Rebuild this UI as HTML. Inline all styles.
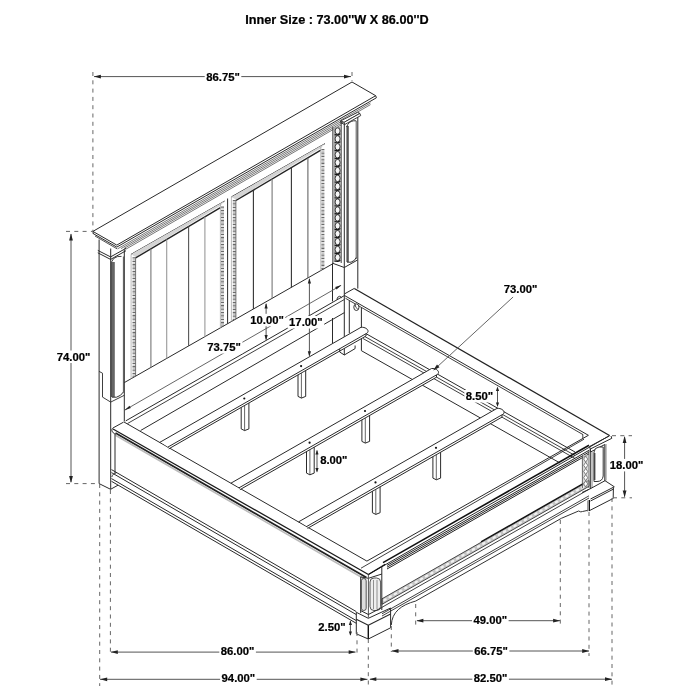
<!DOCTYPE html>
<html><head><meta charset="utf-8"><style>
html,body{margin:0;padding:0;background:#fff;}
svg{display:block;}
text{font-family:"Liberation Sans",sans-serif;fill:#000;stroke:#000;stroke-width:0.22px;}
</style></head><body>
<svg width="700" height="700" viewBox="0 0 700 700" stroke-linecap="butt">
<rect width="700" height="700" fill="#fff"/>
<polyline points="92.9,231.4 352.0,82.0 375.7,95.7 376.4,97.8" fill="none" stroke="#2a2a2a" stroke-width="1.0" stroke-linejoin="round" />
<line x1="92.9" y1="231.4" x2="116.8" y2="245.1" stroke="#2a2a2a" stroke-width="1.0" />
<line x1="116.8" y1="245.1" x2="375.7" y2="95.7" stroke="#2a2a2a" stroke-width="1.0" />
<line x1="92.9" y1="231.4" x2="93.3" y2="234.0" stroke="#2a2a2a" stroke-width="1.0" />
<line x1="93.2" y1="233.6" x2="116.8" y2="247.1" stroke="#2a2a2a" stroke-width="1.0" />
<line x1="116.8" y1="247.1" x2="376.4" y2="97.8" stroke="#2a2a2a" stroke-width="1.0" />
<line x1="95.0" y1="236.0" x2="117.0" y2="248.8" stroke="#2a2a2a" stroke-width="0.8" />
<line x1="117.5" y1="248.9" x2="370.5" y2="102.9" stroke="#4a4a4a" stroke-width="0.75" />
<line x1="121.0" y1="248.6" x2="370.5" y2="104.6" stroke="#4a4a4a" stroke-width="0.75" />
<line x1="124.0" y1="248.5" x2="352.0" y2="117.0" stroke="#4a4a4a" stroke-width="0.75" />
<line x1="125.5" y1="249.4" x2="341.0" y2="125.0" stroke="#4a4a4a" stroke-width="0.75" />
<line x1="99.1" y1="239.5" x2="99.1" y2="483.6" stroke="#2a2a2a" stroke-width="1.0" />
<line x1="110.7" y1="248.5" x2="110.7" y2="489.3" stroke="#2a2a2a" stroke-width="1.0" />
<line x1="124.3" y1="249.5" x2="124.3" y2="421.4" stroke="#2a2a2a" stroke-width="1.0" />
<polyline points="99.1,483.6 110.6,489.3 118.0,485.2" fill="none" stroke="#2a2a2a" stroke-width="1.0" stroke-linejoin="round" />
<polyline points="97.8,250.4 110.6,256.9 126.0,248.3" fill="none" stroke="#2a2a2a" stroke-width="1.0" stroke-linejoin="round" />
<polyline points="97.8,252.8 110.6,259.4 126.0,250.7" fill="none" stroke="#2a2a2a" stroke-width="1.0" stroke-linejoin="round" />
<path d="M111.5,397 L111.5,262 Q113,257.5 117.5,256.6 L121.5,256.4" fill="none" stroke="#444" stroke-width="1"/>
<rect x="111.6" y="262" width="3.2" height="135" fill="#666"/>
<line x1="123.4" y1="256.5" x2="123.4" y2="392.5" stroke="#555" stroke-width="1.0" />
<path d="M112,397.2 L116.5,397.2 Q121,396 123.4,392" fill="none" stroke="#333" stroke-width="1"/>
<polyline points="99.1,371.4 102.5,373.2 102.5,397.1 110.7,402.1 124.3,395.3" fill="none" stroke="#2a2a2a" stroke-width="0.9" stroke-linejoin="round" />
<line x1="124.3" y1="382.6" x2="332.5" y2="263.9" stroke="#2a2a2a" stroke-width="1.0" />
<line x1="131.1" y1="254.3" x2="224.6" y2="201.1" stroke="#2a2a2a" stroke-width="1" />
<polygon points="131.1,254.3 224.6,201.1 220.4,205.8 135.6,256.9" fill="#d4d4d4" stroke="none"/>
<line x1="135.6" y1="257.9" x2="220.4" y2="207.6" stroke="#222" stroke-width="1.4" />
<line x1="131.1" y1="254.3" x2="131.1" y2="378.7" stroke="#aaa" stroke-width="0.8" />
<line x1="134.0" y1="257.3" x2="134.0" y2="377.1" stroke="#6a6a6a" stroke-width="3.0" stroke-dasharray="1.3,2.1"/>
<line x1="134.0" y1="257.3" x2="134.0" y2="377.1" stroke="#bbb" stroke-width="3.0" stroke-dasharray="1.3,2.1" stroke-dashoffset="1.7" opacity="0.8"/>
<line x1="135.6" y1="257.3" x2="135.6" y2="376.2" stroke="#555" stroke-width="0.8" />
<line x1="220.4" y1="203.5" x2="220.4" y2="327.8" stroke="#aaa" stroke-width="0.8" />
<line x1="222.5" y1="206.5" x2="222.5" y2="326.6" stroke="#6a6a6a" stroke-width="3.0" stroke-dasharray="1.3,2.1"/>
<line x1="222.5" y1="206.5" x2="222.5" y2="326.6" stroke="#bbb" stroke-width="3.0" stroke-dasharray="1.3,2.1" stroke-dashoffset="1.7" opacity="0.8"/>
<line x1="150.9" y1="248.8" x2="150.9" y2="367.4" stroke="#777" stroke-width="1.1" />
<line x1="166.7" y1="239.5" x2="166.7" y2="358.4" stroke="#999" stroke-width="1.1" />
<line x1="188.6" y1="226.5" x2="188.6" y2="345.9" stroke="#555" stroke-width="1.1" />
<line x1="204.9" y1="216.8" x2="204.9" y2="336.7" stroke="#999" stroke-width="1.1" />
<line x1="231.4" y1="196.9" x2="325.0" y2="143.6" stroke="#2a2a2a" stroke-width="1" />
<polygon points="231.4,196.9 325.0,143.6 320.8,148.3 235.9,199.5" fill="#d4d4d4" stroke="none"/>
<line x1="235.9" y1="200.5" x2="320.8" y2="150.1" stroke="#222" stroke-width="1.4" />
<line x1="231.4" y1="196.9" x2="231.4" y2="321.6" stroke="#aaa" stroke-width="0.8" />
<line x1="234.3" y1="199.9" x2="234.3" y2="319.9" stroke="#6a6a6a" stroke-width="3.0" stroke-dasharray="1.3,2.1"/>
<line x1="234.3" y1="199.9" x2="234.3" y2="319.9" stroke="#bbb" stroke-width="3.0" stroke-dasharray="1.3,2.1" stroke-dashoffset="1.7" opacity="0.8"/>
<line x1="235.9" y1="199.9" x2="235.9" y2="319.0" stroke="#555" stroke-width="0.8" />
<line x1="320.8" y1="146.0" x2="320.8" y2="270.6" stroke="#aaa" stroke-width="0.8" />
<line x1="322.9" y1="149.0" x2="322.9" y2="269.4" stroke="#6a6a6a" stroke-width="3.0" stroke-dasharray="1.3,2.1"/>
<line x1="322.9" y1="149.0" x2="322.9" y2="269.4" stroke="#bbb" stroke-width="3.0" stroke-dasharray="1.3,2.1" stroke-dashoffset="1.7" opacity="0.8"/>
<line x1="253.4" y1="190.1" x2="253.4" y2="309.0" stroke="#333" stroke-width="1.1" />
<line x1="272.1" y1="179.0" x2="272.1" y2="298.4" stroke="#777" stroke-width="1.1" />
<line x1="291.4" y1="167.6" x2="291.4" y2="287.4" stroke="#333" stroke-width="1.1" />
<line x1="307.9" y1="157.8" x2="307.9" y2="277.9" stroke="#666" stroke-width="1.1" />
<line x1="227.6" y1="198.5" x2="227.6" y2="323.7" stroke="#2a2a2a" stroke-width="1" />
<line x1="332.9" y1="127.0" x2="332.9" y2="263.2" stroke="#2a2a2a" stroke-width="1" />
<line x1="341.2" y1="122.0" x2="341.2" y2="263.0" stroke="#2a2a2a" stroke-width="0.9" />
<rect x="333.4" y="127" width="7.4" height="135" fill="#a8a8a8"/>
<ellipse cx="337.6" cy="131.0" rx="2.5" ry="3.2" fill="#f6f6f6" stroke="#2a2a2a" stroke-width="0.9"/>
<path d="M334.6,134.6 l3.2,0.5 l2.6,-1.3" fill="none" stroke="#111" stroke-width="1.1"/>
<ellipse cx="337.6" cy="138.9" rx="2.5" ry="3.2" fill="#f6f6f6" stroke="#2a2a2a" stroke-width="0.9"/>
<path d="M334.6,142.5 l3.2,0.5 l2.6,-1.3" fill="none" stroke="#111" stroke-width="1.1"/>
<ellipse cx="337.6" cy="146.8" rx="2.5" ry="3.2" fill="#f6f6f6" stroke="#2a2a2a" stroke-width="0.9"/>
<path d="M334.6,150.4 l3.2,0.5 l2.6,-1.3" fill="none" stroke="#111" stroke-width="1.1"/>
<ellipse cx="337.6" cy="154.7" rx="2.5" ry="3.2" fill="#f6f6f6" stroke="#2a2a2a" stroke-width="0.9"/>
<path d="M334.6,158.3 l3.2,0.5 l2.6,-1.3" fill="none" stroke="#111" stroke-width="1.1"/>
<ellipse cx="337.6" cy="162.6" rx="2.5" ry="3.2" fill="#f6f6f6" stroke="#2a2a2a" stroke-width="0.9"/>
<path d="M334.6,166.2 l3.2,0.5 l2.6,-1.3" fill="none" stroke="#111" stroke-width="1.1"/>
<ellipse cx="337.6" cy="170.5" rx="2.5" ry="3.2" fill="#f6f6f6" stroke="#2a2a2a" stroke-width="0.9"/>
<path d="M334.6,174.1 l3.2,0.5 l2.6,-1.3" fill="none" stroke="#111" stroke-width="1.1"/>
<ellipse cx="337.6" cy="178.4" rx="2.5" ry="3.2" fill="#f6f6f6" stroke="#2a2a2a" stroke-width="0.9"/>
<path d="M334.6,182.0 l3.2,0.5 l2.6,-1.3" fill="none" stroke="#111" stroke-width="1.1"/>
<ellipse cx="337.6" cy="186.3" rx="2.5" ry="3.2" fill="#f6f6f6" stroke="#2a2a2a" stroke-width="0.9"/>
<path d="M334.6,189.9 l3.2,0.5 l2.6,-1.3" fill="none" stroke="#111" stroke-width="1.1"/>
<ellipse cx="337.6" cy="194.2" rx="2.5" ry="3.2" fill="#f6f6f6" stroke="#2a2a2a" stroke-width="0.9"/>
<path d="M334.6,197.8 l3.2,0.5 l2.6,-1.3" fill="none" stroke="#111" stroke-width="1.1"/>
<ellipse cx="337.6" cy="202.1" rx="2.5" ry="3.2" fill="#f6f6f6" stroke="#2a2a2a" stroke-width="0.9"/>
<path d="M334.6,205.7 l3.2,0.5 l2.6,-1.3" fill="none" stroke="#111" stroke-width="1.1"/>
<ellipse cx="337.6" cy="210.0" rx="2.5" ry="3.2" fill="#f6f6f6" stroke="#2a2a2a" stroke-width="0.9"/>
<path d="M334.6,213.6 l3.2,0.5 l2.6,-1.3" fill="none" stroke="#111" stroke-width="1.1"/>
<ellipse cx="337.6" cy="217.9" rx="2.5" ry="3.2" fill="#f6f6f6" stroke="#2a2a2a" stroke-width="0.9"/>
<path d="M334.6,221.5 l3.2,0.5 l2.6,-1.3" fill="none" stroke="#111" stroke-width="1.1"/>
<ellipse cx="337.6" cy="225.8" rx="2.5" ry="3.2" fill="#f6f6f6" stroke="#2a2a2a" stroke-width="0.9"/>
<path d="M334.6,229.4 l3.2,0.5 l2.6,-1.3" fill="none" stroke="#111" stroke-width="1.1"/>
<ellipse cx="337.6" cy="233.7" rx="2.5" ry="3.2" fill="#f6f6f6" stroke="#2a2a2a" stroke-width="0.9"/>
<path d="M334.6,237.3 l3.2,0.5 l2.6,-1.3" fill="none" stroke="#111" stroke-width="1.1"/>
<ellipse cx="337.6" cy="241.6" rx="2.5" ry="3.2" fill="#f6f6f6" stroke="#2a2a2a" stroke-width="0.9"/>
<path d="M334.6,245.2 l3.2,0.5 l2.6,-1.3" fill="none" stroke="#111" stroke-width="1.1"/>
<ellipse cx="337.6" cy="249.5" rx="2.5" ry="3.2" fill="#f6f6f6" stroke="#2a2a2a" stroke-width="0.9"/>
<path d="M334.6,253.1 l3.2,0.5 l2.6,-1.3" fill="none" stroke="#111" stroke-width="1.1"/>
<ellipse cx="337.6" cy="257.4" rx="2.5" ry="3.2" fill="#f6f6f6" stroke="#2a2a2a" stroke-width="0.9"/>
<path d="M334.6,261.0 l3.2,0.5 l2.6,-1.3" fill="none" stroke="#111" stroke-width="1.1"/>
<line x1="344.3" y1="123.5" x2="344.3" y2="355.0" stroke="#2a2a2a" stroke-width="1" />
<line x1="357.8" y1="114.5" x2="357.8" y2="288.6" stroke="#2a2a2a" stroke-width="1" />
<polygon points="340.6,120.9 344.2,122.3 359.9,113.4 357.7,112.3" fill="#fff" stroke="#2a2a2a" stroke-width="0.9"/>
<polygon points="344.2,122.3 359.9,113.4 360.7,115.6 344.6,124.6" fill="#fff" stroke="#2a2a2a" stroke-width="0.9"/>
<line x1="340.6" y1="120.9" x2="340.8" y2="122.6" stroke="#2a2a2a" stroke-width="0.9" />
<line x1="340.8" y1="122.6" x2="344.6" y2="124.6" stroke="#2a2a2a" stroke-width="0.9" />
<rect x="346.4" y="126" width="2.4" height="136" fill="#555"/>
<path d="M346.6,127 Q348.5,121.5 353.5,120.8 L356.2,120.8" fill="none" stroke="#333" stroke-width="1"/>
<line x1="356.2" y1="121.0" x2="356.2" y2="259.0" stroke="#555" stroke-width="1" />
<path d="M347,262.2 L351,262.2 Q355,261 356.2,257.5" fill="none" stroke="#333" stroke-width="1"/>
<polyline points="332.5,263.2 344.3,267.5 357.5,260.0" fill="none" stroke="#2a2a2a" stroke-width="1" stroke-linejoin="round" />
<line x1="332.5" y1="263.2" x2="332.5" y2="301.4" stroke="#2a2a2a" stroke-width="1" />
<line x1="332.5" y1="318.0" x2="332.5" y2="343.2" stroke="#2a2a2a" stroke-width="1" />
<line x1="113.0" y1="429.0" x2="368.4" y2="574.5" stroke="#1a1a1a" stroke-width="1.3" />
<line x1="115.5" y1="433.0" x2="366.4" y2="577.5" stroke="#222" stroke-width="1.8" />
<line x1="115.5" y1="435.2" x2="365.4" y2="579.5" stroke="#bbb" stroke-width="1.6" />
<line x1="124.0" y1="422.0" x2="366.9" y2="561.1" stroke="#2a2a2a" stroke-width="1" />
<line x1="115.0" y1="434.0" x2="115.0" y2="473.0" stroke="#2a2a2a" stroke-width="1" />
<line x1="111.5" y1="469.6" x2="356.3" y2="611.6" stroke="#2a2a2a" stroke-width="1" />
<line x1="111.5" y1="472.6" x2="356.3" y2="614.6" stroke="#2a2a2a" stroke-width="1" />
<line x1="111.5" y1="478.6" x2="356.3" y2="620.6" stroke="#2a2a2a" stroke-width="1" />
<line x1="111.5" y1="481.3" x2="356.3" y2="623.3" stroke="#2a2a2a" stroke-width="1" />
<line x1="354.3" y1="288.4" x2="609.5" y2="435.6" stroke="#222" stroke-width="1.2" />
<line x1="344.5" y1="295.5" x2="588.4" y2="435.3" stroke="#2a2a2a" stroke-width="1" />
<line x1="345.5" y1="298.3" x2="583.0" y2="434.6" stroke="#2a2a2a" stroke-width="0.9" />
<line x1="582.8" y1="434.4" x2="582.8" y2="438.4" stroke="#2a2a2a" stroke-width="0.9" />
<line x1="354.3" y1="288.4" x2="344.5" y2="293.9" stroke="#2a2a2a" stroke-width="1" />
<line x1="361.4" y1="307.9" x2="361.4" y2="350.7" stroke="#2a2a2a" stroke-width="1" />
<line x1="361.4" y1="350.7" x2="560.0" y2="463.0" stroke="#2a2a2a" stroke-width="1" />
<line x1="364.0" y1="332.5" x2="575.0" y2="452.0" stroke="#2a2a2a" stroke-width="1" />
<line x1="363.0" y1="335.5" x2="575.0" y2="455.5" stroke="#2a2a2a" stroke-width="0.9" />
<line x1="363.0" y1="338.5" x2="575.0" y2="458.5" stroke="#2a2a2a" stroke-width="0.9" />
<line x1="125.7" y1="420.9" x2="344.5" y2="295.5" stroke="#2a2a2a" stroke-width="1" />
<line x1="127.4" y1="423.6" x2="344.3" y2="299.5" stroke="#2a2a2a" stroke-width="0.9" />
<line x1="140.6" y1="430.5" x2="344.4" y2="312.6" stroke="#2a2a2a" stroke-width="1" />
<line x1="368.4" y1="574.5" x2="609.5" y2="435.6" stroke="#2a2a2a" stroke-width="1" />
<line x1="366.9" y1="561.1" x2="588.4" y2="435.3" stroke="#2a2a2a" stroke-width="1" />
<line x1="361.0" y1="568.2" x2="584.0" y2="439.2" stroke="#2a2a2a" stroke-width="0.9" />
<line x1="383.0" y1="562.6" x2="589.0" y2="445.2" stroke="#111" stroke-width="1.6" />
<line x1="387.0" y1="565.4" x2="589.0" y2="450.3" stroke="#222" stroke-width="1" />
<line x1="387.0" y1="567.2" x2="589.0" y2="452.1" stroke="#222" stroke-width="1" />
<line x1="387.0" y1="569.0" x2="589.0" y2="453.9" stroke="#222" stroke-width="1" />
<polygon points="382,598.8 589,480.8 589,486.3 382,604.3" fill="#c4c4c4" stroke="#333" stroke-width="0.9"/>
<ellipse cx="385.0" cy="599.8" rx="1.9" ry="1.2" transform="rotate(-30 385.0 599.8)" fill="#f2f2f2" stroke="none"/>
<ellipse cx="390.2" cy="596.8" rx="1.9" ry="1.2" transform="rotate(-30 390.2 596.8)" fill="#f2f2f2" stroke="none"/>
<ellipse cx="395.4" cy="593.8" rx="1.9" ry="1.2" transform="rotate(-30 395.4 593.8)" fill="#f2f2f2" stroke="none"/>
<ellipse cx="400.6" cy="590.9" rx="1.9" ry="1.2" transform="rotate(-30 400.6 590.9)" fill="#f2f2f2" stroke="none"/>
<ellipse cx="405.8" cy="587.9" rx="1.9" ry="1.2" transform="rotate(-30 405.8 587.9)" fill="#f2f2f2" stroke="none"/>
<ellipse cx="411.0" cy="584.9" rx="1.9" ry="1.2" transform="rotate(-30 411.0 584.9)" fill="#f2f2f2" stroke="none"/>
<ellipse cx="416.2" cy="582.0" rx="1.9" ry="1.2" transform="rotate(-30 416.2 582.0)" fill="#f2f2f2" stroke="none"/>
<ellipse cx="421.4" cy="579.0" rx="1.9" ry="1.2" transform="rotate(-30 421.4 579.0)" fill="#f2f2f2" stroke="none"/>
<ellipse cx="426.6" cy="576.0" rx="1.9" ry="1.2" transform="rotate(-30 426.6 576.0)" fill="#f2f2f2" stroke="none"/>
<ellipse cx="431.8" cy="573.1" rx="1.9" ry="1.2" transform="rotate(-30 431.8 573.1)" fill="#f2f2f2" stroke="none"/>
<ellipse cx="437.0" cy="570.1" rx="1.9" ry="1.2" transform="rotate(-30 437.0 570.1)" fill="#f2f2f2" stroke="none"/>
<ellipse cx="442.2" cy="567.1" rx="1.9" ry="1.2" transform="rotate(-30 442.2 567.1)" fill="#f2f2f2" stroke="none"/>
<ellipse cx="447.4" cy="564.2" rx="1.9" ry="1.2" transform="rotate(-30 447.4 564.2)" fill="#f2f2f2" stroke="none"/>
<ellipse cx="452.6" cy="561.2" rx="1.9" ry="1.2" transform="rotate(-30 452.6 561.2)" fill="#f2f2f2" stroke="none"/>
<ellipse cx="457.8" cy="558.3" rx="1.9" ry="1.2" transform="rotate(-30 457.8 558.3)" fill="#f2f2f2" stroke="none"/>
<ellipse cx="463.0" cy="555.3" rx="1.9" ry="1.2" transform="rotate(-30 463.0 555.3)" fill="#f2f2f2" stroke="none"/>
<ellipse cx="468.2" cy="552.3" rx="1.9" ry="1.2" transform="rotate(-30 468.2 552.3)" fill="#f2f2f2" stroke="none"/>
<ellipse cx="473.4" cy="549.4" rx="1.9" ry="1.2" transform="rotate(-30 473.4 549.4)" fill="#f2f2f2" stroke="none"/>
<ellipse cx="478.6" cy="546.4" rx="1.9" ry="1.2" transform="rotate(-30 478.6 546.4)" fill="#f2f2f2" stroke="none"/>
<ellipse cx="483.8" cy="543.4" rx="1.9" ry="1.2" transform="rotate(-30 483.8 543.4)" fill="#f2f2f2" stroke="none"/>
<ellipse cx="489.0" cy="540.5" rx="1.9" ry="1.2" transform="rotate(-30 489.0 540.5)" fill="#f2f2f2" stroke="none"/>
<ellipse cx="494.2" cy="537.5" rx="1.9" ry="1.2" transform="rotate(-30 494.2 537.5)" fill="#f2f2f2" stroke="none"/>
<ellipse cx="499.4" cy="534.5" rx="1.9" ry="1.2" transform="rotate(-30 499.4 534.5)" fill="#f2f2f2" stroke="none"/>
<ellipse cx="504.6" cy="531.6" rx="1.9" ry="1.2" transform="rotate(-30 504.6 531.6)" fill="#f2f2f2" stroke="none"/>
<ellipse cx="509.8" cy="528.6" rx="1.9" ry="1.2" transform="rotate(-30 509.8 528.6)" fill="#f2f2f2" stroke="none"/>
<ellipse cx="515.0" cy="525.7" rx="1.9" ry="1.2" transform="rotate(-30 515.0 525.7)" fill="#f2f2f2" stroke="none"/>
<ellipse cx="520.2" cy="522.7" rx="1.9" ry="1.2" transform="rotate(-30 520.2 522.7)" fill="#f2f2f2" stroke="none"/>
<ellipse cx="525.4" cy="519.7" rx="1.9" ry="1.2" transform="rotate(-30 525.4 519.7)" fill="#f2f2f2" stroke="none"/>
<ellipse cx="530.6" cy="516.8" rx="1.9" ry="1.2" transform="rotate(-30 530.6 516.8)" fill="#f2f2f2" stroke="none"/>
<ellipse cx="535.8" cy="513.8" rx="1.9" ry="1.2" transform="rotate(-30 535.8 513.8)" fill="#f2f2f2" stroke="none"/>
<ellipse cx="541.0" cy="510.8" rx="1.9" ry="1.2" transform="rotate(-30 541.0 510.8)" fill="#f2f2f2" stroke="none"/>
<ellipse cx="546.2" cy="507.9" rx="1.9" ry="1.2" transform="rotate(-30 546.2 507.9)" fill="#f2f2f2" stroke="none"/>
<ellipse cx="551.4" cy="504.9" rx="1.9" ry="1.2" transform="rotate(-30 551.4 504.9)" fill="#f2f2f2" stroke="none"/>
<ellipse cx="556.6" cy="501.9" rx="1.9" ry="1.2" transform="rotate(-30 556.6 501.9)" fill="#f2f2f2" stroke="none"/>
<ellipse cx="561.8" cy="499.0" rx="1.9" ry="1.2" transform="rotate(-30 561.8 499.0)" fill="#f2f2f2" stroke="none"/>
<ellipse cx="567.0" cy="496.0" rx="1.9" ry="1.2" transform="rotate(-30 567.0 496.0)" fill="#f2f2f2" stroke="none"/>
<ellipse cx="572.2" cy="493.0" rx="1.9" ry="1.2" transform="rotate(-30 572.2 493.0)" fill="#f2f2f2" stroke="none"/>
<ellipse cx="577.4" cy="490.1" rx="1.9" ry="1.2" transform="rotate(-30 577.4 490.1)" fill="#f2f2f2" stroke="none"/>
<ellipse cx="582.6" cy="487.1" rx="1.9" ry="1.2" transform="rotate(-30 582.6 487.1)" fill="#f2f2f2" stroke="none"/>
<line x1="481.0" y1="541.8" x2="589.0" y2="480.3" stroke="#111" stroke-width="1.3" />
<line x1="382.0" y1="607.3" x2="589.0" y2="489.3" stroke="#2a2a2a" stroke-width="0.9" />
<line x1="382.0" y1="613.8" x2="589.0" y2="495.8" stroke="#2a2a2a" stroke-width="0.9" />
<line x1="382.0" y1="616.0" x2="589.0" y2="498.0" stroke="#2a2a2a" stroke-width="0.9" />
<path d="M391.3,625 C392,612 401,605 415.8,601 L561.4,518.3 L578.6,511 Q581,512.5 582.5,511.5 L588,510.3" fill="none" stroke="#333" stroke-width="1"/>
<path d="M160.7,441.9 L361.0,327.3 C367.0,326.8 370.5,331.8 366.0,333.7 L366.0,336.0 L169.2,448.6 L168.2,446.9 Z" fill="#fff" stroke="none"/>
<line x1="159.7" y1="442.4" x2="361.0" y2="327.3" stroke="#2a2a2a" stroke-width="1" />
<line x1="167.7" y1="447.2" x2="366.0" y2="333.7" stroke="#2a2a2a" stroke-width="1" />
<line x1="168.7" y1="448.9" x2="366.0" y2="336.0" stroke="#2a2a2a" stroke-width="1" />
<path d="M361.0,327.3 C367.0,326.8 370.5,331.8 366.0,333.7 L366.0,336.0" fill="none" stroke="#2a2a2a" stroke-width="1"/>
<circle cx="244.3" cy="398.5" r="1.1" fill="#111"/>
<line x1="241.2" y1="407.4" x2="241.2" y2="428.9" stroke="#2a2a2a" stroke-width="1" />
<line x1="248.9" y1="403.0" x2="248.9" y2="428.9" stroke="#2a2a2a" stroke-width="1" />
<line x1="244.6" y1="405.5" x2="244.6" y2="430.6" stroke="#555" stroke-width="0.9" />
<polyline points="241.2,428.9 244.6,430.6 248.9,428.9" fill="none" stroke="#2a2a2a" stroke-width="1" stroke-linejoin="round" />
<circle cx="301.1" cy="366.1" r="1.1" fill="#111"/>
<line x1="298.0" y1="374.9" x2="298.0" y2="396.4" stroke="#2a2a2a" stroke-width="1" />
<line x1="305.7" y1="370.5" x2="305.7" y2="396.4" stroke="#2a2a2a" stroke-width="1" />
<line x1="301.4" y1="373.0" x2="301.4" y2="398.1" stroke="#555" stroke-width="0.9" />
<polyline points="298.0,396.4 301.4,398.1 305.7,396.4" fill="none" stroke="#2a2a2a" stroke-width="1" stroke-linejoin="round" />
<path d="M231.9,482.6 L431.5,368.5 C437.5,368.0 441.0,373.0 436.5,374.9 L436.5,377.2 L240.4,489.4 L239.4,487.6 Z" fill="#fff" stroke="none"/>
<line x1="230.9" y1="483.2" x2="431.5" y2="368.5" stroke="#2a2a2a" stroke-width="1" />
<line x1="238.9" y1="487.9" x2="436.5" y2="374.9" stroke="#2a2a2a" stroke-width="1" />
<line x1="239.9" y1="489.7" x2="436.5" y2="377.2" stroke="#2a2a2a" stroke-width="1" />
<path d="M431.5,368.5 C437.5,368.0 441.0,373.0 436.5,374.9 L436.5,377.2" fill="none" stroke="#2a2a2a" stroke-width="1"/>
<circle cx="309.6" cy="442.7" r="1.1" fill="#111"/>
<line x1="306.5" y1="451.6" x2="306.5" y2="473.1" stroke="#2a2a2a" stroke-width="1" />
<line x1="314.2" y1="447.2" x2="314.2" y2="473.1" stroke="#2a2a2a" stroke-width="1" />
<line x1="309.9" y1="449.6" x2="309.9" y2="474.8" stroke="#555" stroke-width="0.9" />
<polyline points="306.5,473.1 309.9,474.8 314.2,473.1" fill="none" stroke="#2a2a2a" stroke-width="1" stroke-linejoin="round" />
<circle cx="365.0" cy="411.0" r="1.1" fill="#111"/>
<line x1="361.9" y1="419.9" x2="361.9" y2="441.4" stroke="#2a2a2a" stroke-width="1" />
<line x1="369.6" y1="415.5" x2="369.6" y2="441.4" stroke="#2a2a2a" stroke-width="1" />
<line x1="365.3" y1="417.9" x2="365.3" y2="443.1" stroke="#555" stroke-width="0.9" />
<polyline points="361.9,441.4 365.3,443.1 369.6,441.4" fill="none" stroke="#2a2a2a" stroke-width="1" stroke-linejoin="round" />
<path d="M299.5,521.3 L497.0,408.4 C503.0,407.9 506.5,412.9 502.0,414.8 L502.0,417.1 L308.0,528.1 L307.0,526.3 Z" fill="#fff" stroke="none"/>
<line x1="298.5" y1="521.9" x2="497.0" y2="408.4" stroke="#2a2a2a" stroke-width="1" />
<line x1="306.5" y1="526.6" x2="502.0" y2="414.8" stroke="#2a2a2a" stroke-width="1" />
<line x1="307.5" y1="528.4" x2="502.0" y2="417.1" stroke="#2a2a2a" stroke-width="1" />
<path d="M497.0,408.4 C503.0,407.9 506.5,412.9 502.0,414.8 L502.0,417.1" fill="none" stroke="#2a2a2a" stroke-width="1"/>
<circle cx="375.5" cy="482.4" r="1.1" fill="#111"/>
<line x1="372.4" y1="491.2" x2="372.4" y2="512.7" stroke="#2a2a2a" stroke-width="1" />
<line x1="380.1" y1="486.8" x2="380.1" y2="512.7" stroke="#2a2a2a" stroke-width="1" />
<line x1="375.8" y1="489.3" x2="375.8" y2="514.4" stroke="#555" stroke-width="0.9" />
<polyline points="372.4,512.7 375.8,514.4 380.1,512.7" fill="none" stroke="#2a2a2a" stroke-width="1" stroke-linejoin="round" />
<circle cx="436.0" cy="447.8" r="1.1" fill="#111"/>
<line x1="432.9" y1="456.6" x2="432.9" y2="478.1" stroke="#2a2a2a" stroke-width="1" />
<line x1="440.6" y1="452.2" x2="440.6" y2="478.1" stroke="#2a2a2a" stroke-width="1" />
<line x1="436.3" y1="454.7" x2="436.3" y2="479.8" stroke="#555" stroke-width="0.9" />
<polyline points="432.9,478.1 436.3,479.8 440.6,478.1" fill="none" stroke="#2a2a2a" stroke-width="1" stroke-linejoin="round" />
<polyline points="339.7,349.0 339.7,352.0 344.3,355.0 355.1,348.6 355.1,345.5" fill="none" stroke="#2a2a2a" stroke-width="1" stroke-linejoin="round" />
<ellipse cx="356.4" cy="307.2" rx="2.6" ry="3.3" fill="#fff" stroke="#333" stroke-width="1"/>
<path d="M355.2,305 q0.2,2.8 2.6,4.2" fill="none" stroke="#333" stroke-width="0.9"/>
<path d="M336.8,299.5 q0.5,-3 2.8,-3.2 q1.8,0.3 1.8,1.8" fill="none" stroke="#333" stroke-width="1"/>
<line x1="112.9" y1="428.0" x2="123.6" y2="422.1" stroke="#2a2a2a" stroke-width="1" />
<path d="M112.9,428 C111,429.5 111.6,432.6 115.6,434.2" fill="none" stroke="#2a2a2a" stroke-width="1"/>
<path d="M111.8,477 C112.5,474.5 114,473.3 116.4,472.9" fill="none" stroke="#2a2a2a" stroke-width="0.9"/>
<line x1="349.3" y1="300.7" x2="349.3" y2="333.2" stroke="#2a2a2a" stroke-width="1" />
<polyline points="368.4,574.5 385.3,564.3" fill="none" stroke="#111" stroke-width="1.3" stroke-linejoin="round" />
<polyline points="360.7,576.9 368.4,578.3 381.9,574.0" fill="none" stroke="#2a2a2a" stroke-width="1" stroke-linejoin="round" />
<line x1="360.7" y1="576.9" x2="360.7" y2="613.0" stroke="#2a2a2a" stroke-width="1" />
<line x1="368.4" y1="575.0" x2="368.4" y2="617.7" stroke="#555" stroke-width="1" />
<line x1="381.8" y1="566.0" x2="381.8" y2="610.0" stroke="#2a2a2a" stroke-width="1" />
<rect x="361.4" y="578.5" width="4.8" height="32" rx="2.3" fill="#ddd" stroke="#444" stroke-width="0.9"/>
<rect x="370" y="578" width="10.6" height="32.5" rx="4" fill="#eee" stroke="#444" stroke-width="0.9"/>
<line x1="373.5" y1="580.0" x2="373.5" y2="609.0" stroke="#777" stroke-width="0.8" />
<line x1="377.0" y1="580.0" x2="377.0" y2="609.0" stroke="#777" stroke-width="0.8" />
<polyline points="360.5,610.5 368.4,614.5 381.9,607.5" fill="none" stroke="#2a2a2a" stroke-width="1" stroke-linejoin="round" />
<polyline points="356.3,612.3 368.3,618.3 390.6,608.0" fill="none" stroke="#2a2a2a" stroke-width="1" stroke-linejoin="round" />
<polyline points="356.3,619.2 368.3,625.2 390.6,614.0" fill="none" stroke="#2a2a2a" stroke-width="1.1" stroke-linejoin="round" />
<line x1="356.3" y1="612.3" x2="356.3" y2="619.2" stroke="#2a2a2a" stroke-width="1" />
<line x1="390.6" y1="608.0" x2="390.6" y2="614.0" stroke="#2a2a2a" stroke-width="1" />
<line x1="356.3" y1="619.2" x2="356.3" y2="633.8" stroke="#2a2a2a" stroke-width="1" />
<line x1="368.3" y1="625.2" x2="368.3" y2="639.0" stroke="#111" stroke-width="1.4" />
<line x1="390.6" y1="614.0" x2="390.6" y2="627.8" stroke="#2a2a2a" stroke-width="1" />
<polyline points="356.3,633.8 368.3,639.0 390.6,627.8" fill="none" stroke="#2a2a2a" stroke-width="1" stroke-linejoin="round" />
<line x1="611.0" y1="436.0" x2="611.8" y2="438.3" stroke="#2a2a2a" stroke-width="1" />
<line x1="611.8" y1="438.3" x2="590.3" y2="449.0" stroke="#2a2a2a" stroke-width="1" />
<line x1="609.5" y1="435.8" x2="589.5" y2="446.5" stroke="#2a2a2a" stroke-width="1" />
<polyline points="589.5,446.5 590.3,449.0 590.3,452.0" fill="none" stroke="#2a2a2a" stroke-width="1" stroke-linejoin="round" />
<polyline points="590.5,452.0 604.8,444.5" fill="none" stroke="#2a2a2a" stroke-width="1" stroke-linejoin="round" />
<line x1="590.3" y1="449.0" x2="590.3" y2="489.0" stroke="#2a2a2a" stroke-width="1" />
<line x1="592.0" y1="452.0" x2="592.0" y2="488.0" stroke="#666" stroke-width="0.8" />
<line x1="604.8" y1="444.5" x2="604.8" y2="481.0" stroke="#2a2a2a" stroke-width="1" />
<line x1="606.0" y1="444.0" x2="606.0" y2="480.5" stroke="#666" stroke-width="0.8" />
<path d="M594,481.5 L594,452 Q594.5,447.5 599,447 L603.2,447 L603.2,476 Q602.5,481.5 597,481.5 Z" fill="#fff" stroke="#333" stroke-width="1"/>
<line x1="594.6" y1="453.0" x2="594.6" y2="480.0" stroke="#444" stroke-width="1.6" />
<line x1="582.4" y1="456.0" x2="582.4" y2="488.0" stroke="#555" stroke-width="0.9" />
<line x1="588.8" y1="450.5" x2="588.8" y2="488.0" stroke="#555" stroke-width="0.9" />
<rect x="583" y="455" width="5.5" height="31" fill="#ccc" opacity="0.7"/>
<path d="M585.7,456.0 l2,3.1 l-2,3.1 l-2,-3.1 z" fill="#fff" stroke="#666" stroke-width="0.8"/>
<path d="M585.7,462.2 l2,3.1 l-2,3.1 l-2,-3.1 z" fill="#fff" stroke="#666" stroke-width="0.8"/>
<path d="M585.7,468.4 l2,3.1 l-2,3.1 l-2,-3.1 z" fill="#fff" stroke="#666" stroke-width="0.8"/>
<path d="M585.7,474.6 l2,3.1 l-2,3.1 l-2,-3.1 z" fill="#fff" stroke="#666" stroke-width="0.8"/>
<path d="M585.7,480.8 l2,3.1 l-2,3.1 l-2,-3.1 z" fill="#fff" stroke="#666" stroke-width="0.8"/>
<polyline points="582.0,492.5 590.0,488.9 605.0,480.7 614.3,486.8 590.5,499.0" fill="none" stroke="#2a2a2a" stroke-width="1" stroke-linejoin="round" />
<line x1="613.6" y1="489.0" x2="590.5" y2="501.0" stroke="#2a2a2a" stroke-width="1" />
<line x1="613.4" y1="487.5" x2="613.2" y2="498.6" stroke="#2a2a2a" stroke-width="1" />
<line x1="612.9" y1="498.6" x2="589.3" y2="510.7" stroke="#2a2a2a" stroke-width="1" />
<line x1="589.3" y1="500.0" x2="589.3" y2="511.0" stroke="#111" stroke-width="1.4" />
<line x1="587.6" y1="500.5" x2="587.6" y2="511.5" stroke="#777" stroke-width="0.8" />
<line x1="94.0" y1="76.6" x2="351.0" y2="76.6" stroke="#555" stroke-width="1.0" />
<polygon points="93.9,76.6 100.9,74.7 100.9,78.5" fill="#222"/>
<polygon points="351.0,76.6 344.0,78.5 344.0,74.7" fill="#222"/>
<line x1="92.9" y1="72.0" x2="92.9" y2="231.0" stroke="#666" stroke-width="1.0" stroke-dasharray="4,4.3"/>
<line x1="352.0" y1="72.0" x2="352.0" y2="81.0" stroke="#666" stroke-width="1.0" stroke-dasharray="4,4.3"/>
<line x1="71.0" y1="234.0" x2="71.0" y2="482.0" stroke="#555" stroke-width="1.0" />
<polygon points="71.0,233.6 72.9,240.6 69.1,240.6" fill="#222"/>
<polygon points="71.0,482.9 69.1,475.9 72.9,475.9" fill="#222"/>
<line x1="66.0" y1="231.4" x2="92.9" y2="231.4" stroke="#666" stroke-width="1.0" stroke-dasharray="4,4.3"/>
<line x1="66.0" y1="483.6" x2="99.0" y2="483.6" stroke="#666" stroke-width="1.0" stroke-dasharray="4,4.3"/>
<line x1="99.7" y1="484.0" x2="99.7" y2="686.0" stroke="#666" stroke-width="1.0" stroke-dasharray="4,4.3"/>
<line x1="110.4" y1="490.0" x2="110.4" y2="656.0" stroke="#666" stroke-width="1.0" stroke-dasharray="4,4.3"/>
<line x1="111.0" y1="652.1" x2="355.5" y2="652.1" stroke="#555" stroke-width="1.0" />
<polygon points="110.8,652.1 117.8,650.2 117.8,654.0" fill="#222"/>
<polygon points="355.7,652.1 348.7,654.0 348.7,650.2" fill="#222"/>
<line x1="100.0" y1="679.3" x2="367.5" y2="679.3" stroke="#555" stroke-width="1.0" />
<polygon points="100.2,679.3 107.2,677.4 107.2,681.2" fill="#222"/>
<polygon points="367.4,679.3 360.4,681.2 360.4,677.4" fill="#222"/>
<line x1="357.0" y1="632.0" x2="357.0" y2="656.0" stroke="#666" stroke-width="1.0" stroke-dasharray="4,4.3"/>
<line x1="368.3" y1="639.0" x2="368.3" y2="685.0" stroke="#666" stroke-width="1.0" stroke-dasharray="4,4.3"/>
<line x1="391.3" y1="626.0" x2="391.3" y2="652.0" stroke="#666" stroke-width="1.0" stroke-dasharray="4,4.3"/>
<line x1="415.7" y1="604.0" x2="415.7" y2="625.0" stroke="#666" stroke-width="1.0" stroke-dasharray="4,4.3"/>
<line x1="560.3" y1="520.0" x2="560.3" y2="625.0" stroke="#666" stroke-width="1.0" stroke-dasharray="4,4.3"/>
<line x1="589.0" y1="512.0" x2="589.0" y2="656.0" stroke="#666" stroke-width="1.0" stroke-dasharray="4,4.3"/>
<line x1="612.0" y1="498.0" x2="612.0" y2="686.0" stroke="#666" stroke-width="1.0" stroke-dasharray="4,4.3"/>
<line x1="370.0" y1="679.2" x2="612.0" y2="679.2" stroke="#555" stroke-width="1.0" />
<polygon points="369.3,679.2 376.3,677.3 376.3,681.1" fill="#222"/>
<polygon points="612.0,679.2 605.0,681.1 605.0,677.3" fill="#222"/>
<line x1="392.0" y1="651.0" x2="589.0" y2="651.0" stroke="#555" stroke-width="1.0" />
<polygon points="391.5,651.0 398.5,649.1 398.5,652.9" fill="#222"/>
<polygon points="589.2,651.0 582.2,652.9 582.2,649.1" fill="#222"/>
<line x1="417.0" y1="620.7" x2="560.0" y2="620.7" stroke="#555" stroke-width="1.0" />
<polygon points="416.4,620.7 423.4,618.8 423.4,622.6" fill="#222"/>
<polygon points="560.1,620.7 553.1,622.6 553.1,618.8" fill="#222"/>
<line x1="350.4" y1="621.0" x2="350.4" y2="635.0" stroke="#555" stroke-width="1.0" />
<polygon points="350.4,620.7 352.0,625.0 348.8,625.0" fill="#222"/>
<polygon points="350.4,635.7 348.8,631.4 352.0,631.4" fill="#222"/>
<line x1="624.6" y1="437.0" x2="624.6" y2="496.5" stroke="#555" stroke-width="1.0" />
<polygon points="624.6,435.9 626.5,442.9 622.7,442.9" fill="#222"/>
<polygon points="624.6,497.6 622.7,490.6 626.5,490.6" fill="#222"/>
<line x1="612.0" y1="435.7" x2="632.0" y2="435.7" stroke="#666" stroke-width="1.0" stroke-dasharray="4,4.3"/>
<line x1="613.0" y1="497.8" x2="632.0" y2="497.8" stroke="#666" stroke-width="1.0" stroke-dasharray="4,4.3"/>
<line x1="513.1" y1="297.0" x2="434.0" y2="369.8" stroke="#555" stroke-width="0.9" />
<polygon points="433.1,370.6 437.0,364.5 439.5,367.3" fill="#222"/>
<line x1="497.5" y1="388.0" x2="497.5" y2="405.5" stroke="#555" stroke-width="1.0" />
<polygon points="497.5,386.4 499.1,390.9 495.9,390.9" fill="#222"/>
<polygon points="497.5,407.1 495.9,402.6 499.1,402.6" fill="#222"/>
<line x1="266.1" y1="304.0" x2="266.1" y2="339.5" stroke="#555" stroke-width="1.0" />
<polygon points="266.1,302.9 267.7,308.4 264.5,308.4" fill="#222"/>
<polygon points="266.1,340.6 264.5,335.1 267.7,335.1" fill="#222"/>
<line x1="309.4" y1="279.0" x2="309.4" y2="355.5" stroke="#555" stroke-width="1.0" />
<polygon points="309.4,278.0 311.0,283.5 307.8,283.5" fill="#222"/>
<polygon points="309.4,356.7 307.8,351.2 311.0,351.2" fill="#222"/>
<line x1="125.0" y1="410.0" x2="341.0" y2="285.4" stroke="#555" stroke-width="0.9" />
<polygon points="124.5,410.2 129.5,405.8 130.8,408.1" fill="#222"/>
<polygon points="341.5,285.0 336.5,289.4 335.2,287.1" fill="#222"/>
<line x1="317.0" y1="450.5" x2="317.0" y2="471.5" stroke="#555" stroke-width="1.0" />
<polygon points="317.0,449.9 318.6,454.4 315.4,454.4" fill="#222"/>
<polygon points="317.0,472.6 315.4,468.1 318.6,468.1" fill="#222"/>
<g style="will-change:transform"><text x="337" y="23.9" font-size="12.7" font-weight="bold" text-anchor="middle">Inner Size : 73.00''W X 86.00''D</text>
<rect x="204.7" y="70.6" width="36.6" height="12.5" fill="#fff"/>
<text x="223.0" y="80.6" font-size="11.3" font-weight="bold" text-anchor="middle">86.75"</text>
<rect x="55.2" y="350.5" width="36.6" height="12.5" fill="#fff"/>
<text x="73.5" y="360.5" font-size="11.3" font-weight="bold" text-anchor="middle">74.00"</text>
<rect x="219.3" y="645.0" width="36.6" height="12.5" fill="#fff"/>
<text x="237.6" y="655.0" font-size="11.3" font-weight="bold" text-anchor="middle">86.00"</text>
<rect x="220.1" y="671.6" width="36.6" height="12.5" fill="#fff"/>
<text x="238.4" y="681.6" font-size="11.3" font-weight="bold" text-anchor="middle">94.00"</text>
<rect x="472.3" y="671.8" width="36.6" height="12.5" fill="#fff"/>
<text x="490.6" y="681.8" font-size="11.3" font-weight="bold" text-anchor="middle">82.50"</text>
<rect x="472.8" y="644.8" width="36.6" height="12.5" fill="#fff"/>
<text x="491.1" y="654.8" font-size="11.3" font-weight="bold" text-anchor="middle">66.75"</text>
<rect x="472.0" y="614.2" width="36.6" height="12.5" fill="#fff"/>
<text x="490.3" y="624.2" font-size="11.3" font-weight="bold" text-anchor="middle">49.00"</text>
<rect x="316.9" y="621.4" width="30.3" height="12.5" fill="#fff"/>
<text x="332.0" y="631.4" font-size="11.3" font-weight="bold" text-anchor="middle">2.50"</text>
<rect x="608.3" y="458.9" width="36.6" height="12.5" fill="#fff"/>
<text x="626.6" y="468.9" font-size="11.3" font-weight="bold" text-anchor="middle">18.00"</text>
<rect x="502.3" y="282.9" width="36.6" height="12.5" fill="#fff"/>
<text x="520.6" y="292.9" font-size="11.3" font-weight="bold" text-anchor="middle">73.00"</text>
<rect x="464.4" y="390.0" width="30.3" height="12.5" fill="#fff"/>
<text x="479.5" y="400.0" font-size="11.3" font-weight="bold" text-anchor="middle">8.50"</text>
<rect x="248.7" y="313.8" width="36.6" height="12.5" fill="#fff"/>
<text x="267.0" y="323.8" font-size="11.3" font-weight="bold" text-anchor="middle">10.00"</text>
<rect x="287.6" y="316.0" width="36.6" height="12.5" fill="#fff"/>
<text x="305.9" y="326.0" font-size="11.3" font-weight="bold" text-anchor="middle">17.00"</text>
<rect x="205.8" y="341.0" width="36.6" height="12.5" fill="#fff"/>
<text x="224.1" y="351.0" font-size="11.3" font-weight="bold" text-anchor="middle">73.75"</text>
<rect x="318.7" y="454.0" width="30.3" height="12.5" fill="#fff"/>
<text x="333.8" y="464.0" font-size="11.3" font-weight="bold" text-anchor="middle">8.00"</text></g>
</svg></body></html>
